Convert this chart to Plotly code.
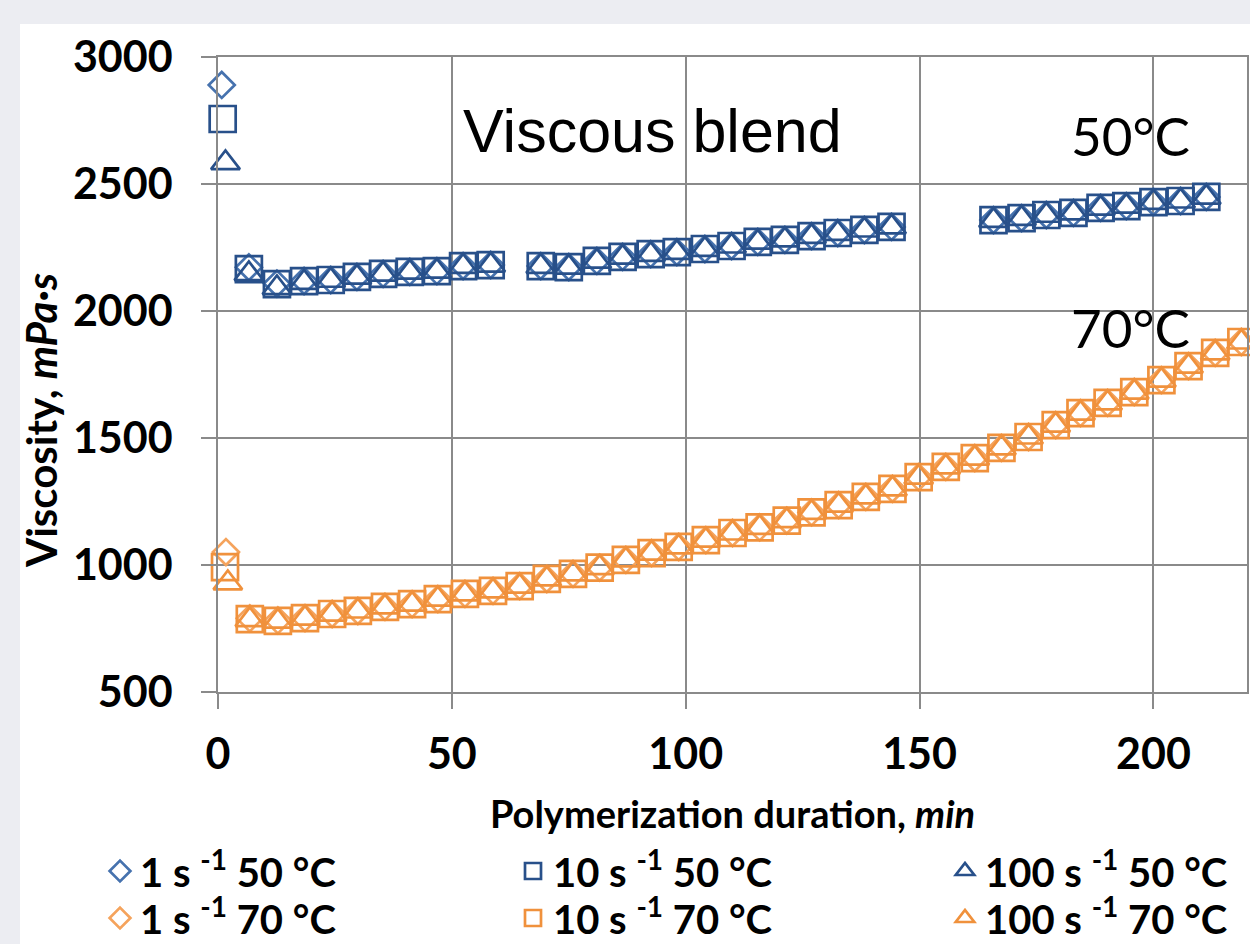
import plotly.graph_objects as go

# ---------------- data ----------------
# 50 °C : initial readings (t ~ 0) for each shear rate
t0_50 = {"1": 0.8, "10": 1.0, "100": 1.6}
v0_50 = {"1": 2890, "10": 2756, "100": 2583}
# 70 °C : initial readings
t0_70 = {"1": 1.7, "10": 1.5, "100": 2.1}
v0_70 = {"1": 1051, "10": 992, "100": 929}

# 50 °C time series (three measurement blocks)
t50 = [6.6, 12.6, 18.4, 24.1, 29.7, 35.3, 41.0, 46.8, 52.4, 58.3,
       69.0, 75.0, 81.0, 86.5, 92.5, 98.1, 104.1, 109.8, 115.4, 121.2, 126.9, 132.5, 138.2, 144.0,
       165.8, 171.8, 177.1, 182.9, 188.7, 194.2, 200.0, 205.8, 211.3]
v50_1 = [2172, 2108, 2118, 2122, 2134, 2146, 2154, 2157, 2177, 2181,
         2177, 2173, 2197, 2213, 2224, 2232, 2244, 2256, 2272, 2280, 2295, 2307, 2319, 2331,
         2358, 2366, 2378, 2386, 2406, 2413, 2429, 2433, 2449]
v50_10 = [2165, 2106, 2118, 2122, 2134, 2146, 2154, 2157, 2177, 2181,
          2177, 2173, 2197, 2213, 2224, 2232, 2244, 2256, 2272, 2280, 2295, 2307, 2319, 2331,
          2358, 2366, 2378, 2386, 2406, 2413, 2429, 2433, 2449]
v50_100 = [2146, 2091, 2112, 2120, 2132, 2144, 2152, 2156, 2175, 2180,
           2175, 2172, 2195, 2211, 2222, 2230, 2242, 2255, 2270, 2279, 2293, 2305, 2318, 2330,
           2356, 2364, 2376, 2385, 2404, 2412, 2427, 2432, 2447]

# 70 °C time series (continuous)
t70 = [6.8, 12.8, 18.6, 24.4, 29.9, 35.7, 41.5, 47.0, 52.8, 58.8,
       64.5, 70.3, 75.9, 81.6, 87.2, 92.7, 98.5, 104.3, 110.0, 115.8,
       121.6, 126.9, 132.7, 138.5, 144.2, 149.8, 155.6, 161.8, 167.5, 173.3,
       179.1, 184.4, 190.2, 195.9, 201.7, 207.5, 213.2, 218.8]
v70_1 = [790, 782, 791, 807, 819, 835, 846, 866, 886, 898,
         917, 945, 965, 990, 1020, 1047, 1071, 1098, 1126, 1148,
         1175, 1207, 1236, 1268, 1300, 1346, 1386, 1421, 1461, 1504,
         1551, 1598, 1638, 1681, 1728, 1783, 1835, 1878]
v70_10 = [787, 780, 791, 807, 819, 835, 846, 866, 886, 898,
          917, 945, 965, 990, 1020, 1047, 1071, 1098, 1126, 1148,
          1175, 1207, 1236, 1268, 1300, 1346, 1386, 1421, 1461, 1504,
          1551, 1598, 1638, 1681, 1728, 1783, 1835, 1878]
v70_100 = [784, 778, 790, 806, 818, 834, 845, 865, 885, 897,
           916, 944, 964, 989, 1019, 1046, 1070, 1097, 1125, 1147,
           1174, 1206, 1235, 1267, 1299, 1345, 1385, 1420, 1460, 1503,
           1550, 1597, 1637, 1680, 1727, 1782, 1834, 1877]

shear_rates = ["1", "10", "100"]
x_ticks = [0, 50, 100, 150, 200]
y_ticks = [500, 1000, 1500, 2000, 2500, 3000]

# ---------------- style ----------------
FONT = "Lato"
BLUE_D, BLUE = "#4672AE", "#28508A"
ORANGE_D, ORANGE = "#F5A35C", "#F0913C"
GRID = "#8A8A8A"

symbols = {"1": "diamond-open", "10": "square-open", "100": "triangle-up-open"}
sizes = {"1": 20, "10": 26, "100": 25}

series50 = {"1": v50_1, "10": v50_10, "100": v50_100}
series70 = {"1": v70_1, "10": v70_10, "100": v70_100}

# pixel helpers for layout placement (plot area 218..1247 x, 57..692 y)
L, R, T, B = 218, 1247, 57, 692
def px(xp):
    return (xp - L) / (R - L)
def py(yp):
    return (B - yp) / (B - T)

# legend slots: one legend per entry (row by temperature, column by shear rate)
col_x = {"1": 100, "10": 513, "100": 945}
row_y = {"50": 871, "70": 918}

fig = go.Figure()
legend_layouts = {}
k = 0
for temp, tser, vser, t0, v0, colset in [
    ("50", t50, series50, t0_50, v0_50, (BLUE_D, BLUE)),
    ("70", t70, series70, t0_70, v0_70, (ORANGE_D, ORANGE)),
]:
    for sr in shear_rates:
        k += 1
        lid = "legend" if k == 1 else f"legend{k}"
        col = colset[0] if sr == "1" else colset[1]
        fig.add_trace(go.Scatter(
            x=[t0[sr]] + tser,
            y=[v0[sr]] + vser[sr],
            mode="markers",
            name=f"{sr} s <sup>-1</sup> {temp} °C",
            legend=lid,
            showlegend=True,
            cliponaxis=False,
            marker=dict(symbol=symbols[sr], size=sizes[sr], color=col,
                        line=dict(color=col, width=2.7)),
        ))
        legend_layouts[lid] = dict(
            x=px(col_x[sr]), y=py(row_y[temp]), xanchor="left", yanchor="middle",
            orientation="v", bgcolor="rgba(0,0,0,0)", borderwidth=0,
            font=dict(family=FONT, size=40, color="black", weight="bold"),
        )

fig.update_layout(
    width=1250, height=944,
    showlegend=True,
    margin=dict(l=L, r=1250 - R, t=T, b=944 - B, autoexpand=False),
    paper_bgcolor="#ECEDF2",
    plot_bgcolor="white",
    font=dict(family=FONT, color="black"),
    xaxis=dict(
        range=[0, 220], tickvals=x_ticks, ticktext=[str(v) for v in x_ticks],
        showgrid=True, gridcolor=GRID, gridwidth=1.5,
        zeroline=False, showline=True, linecolor=GRID, linewidth=1.5, mirror=True,
        ticks="outside", ticklen=15, tickwidth=1.5, tickcolor=GRID,
        ticklabelstandoff=9,
        tickfont=dict(family=FONT, size=43, color="black", weight="bold"),
        title=dict(text="<b>Polymerization duration, <i>min</i></b>",
                   font=dict(family=FONT, size=38, color="black"), standoff=24),
    ),
    yaxis=dict(
        range=[500, 3000], tickvals=y_ticks, ticktext=[str(v) for v in y_ticks],
        showgrid=True, gridcolor=GRID, gridwidth=1.5,
        zeroline=False, showline=True, linecolor=GRID, linewidth=1.5, mirror=True,
        ticks="outside", ticklen=15, tickwidth=1.5, tickcolor=GRID,
        ticklabelstandoff=20,
        tickfont=dict(family=FONT, size=43, color="black", weight="bold"),
    ),
    shapes=[dict(type="rect", xref="paper", yref="paper",
                 x0=px(20), x1=px(1260), y0=py(960), y1=py(24),
                 fillcolor="white", line=dict(width=0), layer="below")],
    annotations=[
        dict(text="<b>Viscosity, <i>mPa·s</i></b>", textangle=-90,
             xref="paper", yref="paper", x=px(41), y=py(421),
             xanchor="center", yanchor="middle",
             showarrow=False, font=dict(family=FONT, size=42, color="black")),
        dict(text="Viscous blend", xref="paper", yref="paper",
             x=px(652), y=py(131), xanchor="center", yanchor="middle", showarrow=False,
             font=dict(family="Liberation Sans", size=61, color="black")),
        dict(text="50°C", xref="paper", yref="paper",
             x=px(1130), y=py(136), xanchor="center", yanchor="middle", showarrow=False,
             font=dict(family=FONT, size=53, color="black")),
        dict(text="70°C", xref="paper", yref="paper",
             x=px(1130), y=py(327), xanchor="center", yanchor="middle", showarrow=False,
             font=dict(family=FONT, size=53, color="black")),
    ],
    **legend_layouts,
)

fig.write_html("out.html")
